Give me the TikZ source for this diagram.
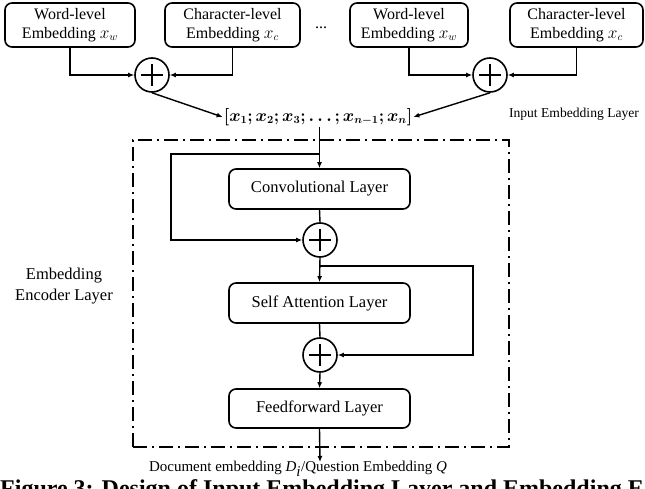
\documentclass[tikz,border=0pt]{standalone}
\usepackage{fontspec}
\setmainfont{Liberation Serif}
\usepackage{bm}
\usetikzlibrary{arrows.meta,calc}
\newcommand{\myfs}{\fontsize{16.5}{19}\selectfont}
\newcommand{\topfs}{\fontsize{16}{19}\selectfont}
\begin{document}
\begin{tikzpicture}[x=1pt,y=-1pt,
  box/.style={draw, line width=1.6pt, rounded corners=7pt, inner sep=0pt, align=center, font=\myfs},
  topbox/.style={box, font=\topfs, minimum height=44pt},
  addc/.style={circle, draw, line width=1.6pt, minimum size=34pt, inner sep=0pt,
    path picture={\draw[line width=2pt]
      ($(path picture bounding box.center)+(-11pt,0)$) -- ++(22pt,0)
      ($(path picture bounding box.center)+(0,-11pt)$) -- ++(0,22pt);}},
  conn/.style={line width=1.4pt},
  arr/.style={conn, -{Latex[length=6pt,width=5pt]}},
  lbl/.style={font=\myfs, inner sep=0pt, align=center},
  dashdot/.style={draw, line width=1.8pt, dash pattern=on 14pt off 5pt on 2pt off 5pt}
]
\useasboundingbox (0,0) rectangle (645,489);

% input embedding layer
\node[topbox, minimum width=130pt] (w1) at (70,25) {Word-level\\Embedding $x_w$};
\node[topbox, minimum width=135pt] (h1) at (232.5,25) {Character-level\\Embedding $x_c$};
\node[lbl, font=\topfs] (dots) at (321,28) {...};
\node[topbox, minimum width=118pt] (w2) at (409,25) {Word-level\\Embedding $x_w$};
\node[topbox, minimum width=133pt] (h2) at (576.5,25) {Character-level\\Embedding $x_c$};

\node[addc] (c1) at (152,75) {};
\node[addc] (c2) at (490,75) {};

\draw[arr] (w1.south) |- (c1.west);
\draw[arr] (h1.south) |- (c1.east);
\draw[arr] (w2.south) |- (c2.west);
\draw[arr] (h2.south) |- (c2.east);

\node[inner sep=1pt, font=\fontsize{16}{19}\selectfont] (seq) at (318,117) {$\bm{[x_1; x_2; x_3; \ldots; x_{n-1}; x_n]}$};
\draw[arr] (c1.south) -- (seq.west);
\draw[arr] (c2.south) -- (seq.east);
\node[lbl, font=\fontsize{13.6}{16}\selectfont] (inl) at (574,114) {Input Embedding Layer};

% embedding encoder layer
\node[dashdot, minimum width=376pt, minimum height=307pt, inner sep=0pt] (enc) at (321,293.5) {};
\node[lbl, font=\fontsize{16.5}{21.5}\selectfont] (encl) at (64,286) {Embedding\\Encoder Layer};

\node[box, minimum width=181pt, minimum height=40pt] (conv) at (319.5,189) {Convolutional Layer};
\node[addc] (c3) at (320,240) {};
\node[box, minimum width=181pt, minimum height=40pt] (sa) at (319.5,303) {Self Attention Layer};
\node[addc] (c4) at (320,355) {};
\node[box, minimum width=181pt, minimum height=39pt] (ff) at (319.5,408.5) {Feedforward Layer};

\draw[arr] (seq.south -| conv.north) -- (conv.north);
\coordinate (s1) at (320,154);
\coordinate (k1) at (171,154);
\draw[arr] (s1) -- (k1) |- (c3.west);
\draw[conn] (conv.south) -- (c3.north);
\draw[arr] (c3.south) -- (sa.north);
\coordinate (s2) at (320,266);
\coordinate (k2) at (473,266);
\draw[arr] (s2) -- (k2) |- (c4.east);
\draw[conn] (sa.south) -- (c4.north);
\draw[arr] (c4.south) -- (ff.north);
\coordinate (out) at (320,462);
\draw[arr] (ff.south) -- (out);

\node[lbl, font=\fontsize{15}{18}\selectfont] (doc) at (298,468.5) {Document embedding \textit{D}$_{\textit{i}}$/Question Embedding \textit{Q}};

\begin{scope}
\clip (0,0) rectangle (645,489);
\node[anchor=base west, inner sep=0pt, font=\bfseries\fontsize{24}{28}\selectfont] (cap) at (0,496.5) {Figure 3: Design of Input Embedding Layer and Embedding E};
\end{scope}
\end{tikzpicture}
\end{document}
